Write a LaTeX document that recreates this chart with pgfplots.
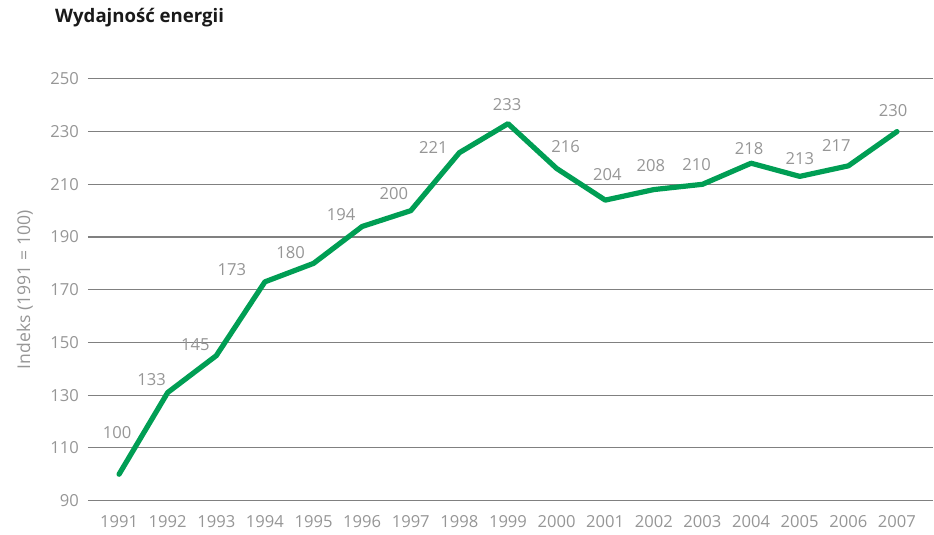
\documentclass[border=0pt]{standalone}
\usepackage{fontspec}
\setmainfont{Open Sans}
\usepackage{pgfplots}
\pgfplotsset{compat=1.18}

\definecolor{linegreen}{RGB}{0,158,84}
\definecolor{txtgray}{RGB}{150,150,150}
\definecolor{gridgray}{RGB}{128,128,128}

% x, y (as drawn), label, label offset in pt
\pgfplotstableread{
x    y    lab  dx    dy
1991 100  100  -1    21
1992 131  133  -8    6.5
1993 145  145  -10.5 5.5
1994 173  173  -16.5 6
1995 180  180  -11.5 5.5
1996 194  194  -10.5 6
1997 200  200  -8.5  8.5
1998 222  221  -13   2.5
1999 233  233  -0.5  9.5
2000 216  216  4.5   11
2001 204  204  1     13
2002 208  208  -1.5  12
2003 210  210  -3    10
2004 218  218  -1    7.5
2005 213  213  0     9
2006 217  217  -6    10
2007 230  230  -2    10.5
}\energy

\begin{document}
\begin{tikzpicture}
\begin{axis}[
  width=423pt, height=211pt, scale only axis,
  xmin=1990.36, xmax=2007.75,
  ymin=90, ymax=250,
  ytick={90,110,...,250},
  xtick={1991,...,2007},
  /pgf/number format/1000 sep={},
  /pgf/number format/assume math mode=true,
  axis line style={draw=none},
  major tick length=0pt,
  ymajorgrids,
  grid style={gridgray, line width=0.55pt},
  tick label style={font=\fontsize{8.3}{10}\selectfont, text=txtgray},
  yticklabel style={xshift=-1pt},
  xticklabel style={yshift=-4pt},
  every axis y label/.style={at={(axis description cs:-0.0745,0.5)}, rotate=90, anchor=center},
  ylabel={Indeks (1991 = 100)},
  ylabel style={font=\fontsize{8.8}{10}\selectfont, text=txtgray},
  title={Wydajność energii},
  every axis title/.style={at={(axis description cs:-0.040,1.1445)}, anchor=west, xshift=-3pt,
    font=\bfseries\fontsize{9.3}{11}\selectfont, text=black!90},
  clip=false,
]
\path (rel axis cs:-0.104,-0.078) rectangle (rel axis cs:1,1.187);
\addplot[linegreen, line width=2.6pt, line join=round, line cap=round,
  point meta=explicit symbolic,
  visualization depends on={\thisrow{dx}\as\dx},
  visualization depends on={\thisrow{dy}\as\dy},
  nodes near coords,
  every node near coord/.append style={anchor=center, xshift=\dx pt, yshift=\dy pt,
    font=\fontsize{8.3}{10}\selectfont, text=txtgray}]
  table[x=x, y=y, meta=lab] {\energy};
\end{axis}
\end{tikzpicture}
\end{document}
